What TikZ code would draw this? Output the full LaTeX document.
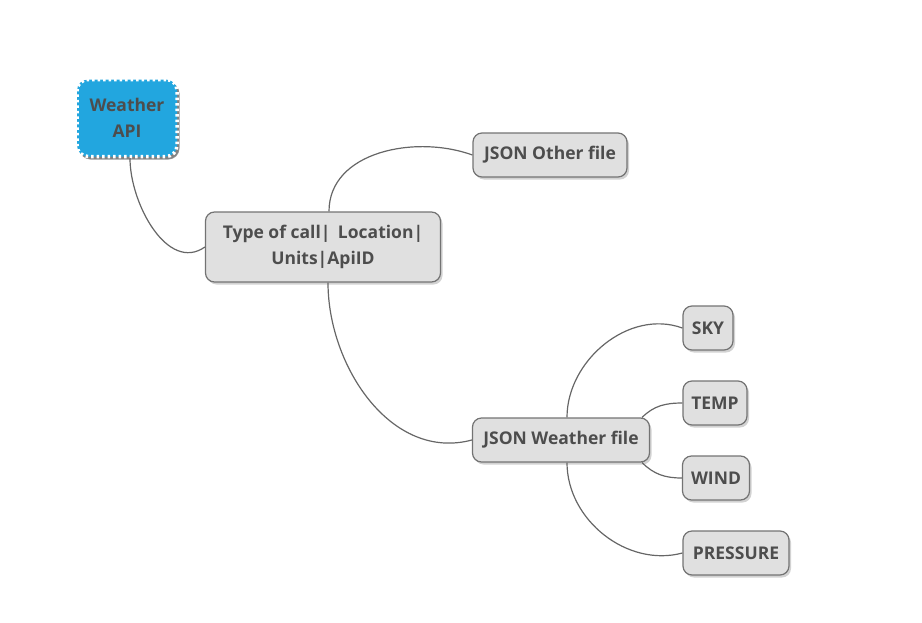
\documentclass[tikz,border=0pt]{standalone}
\usepackage{fontspec}
\setmainfont{Open Sans}
\usepackage{tikz}
\usetikzlibrary{shapes,shadows}

\definecolor{txtgray}{HTML}{4D4D4D}
\definecolor{boxgray}{HTML}{E0E0E0}
\definecolor{apiblue}{HTML}{22A6DF}

\begin{document}
\begin{tikzpicture}[x=1pt,y=-1pt]

    \tikzset{topic/.style = {shape=rectangle,rounded corners=9pt,draw=black!55,fill=boxgray,line width=1.2pt,
        font=\bfseries\fontsize{17.5}{26}\selectfont,text=txtgray,align=center,minimum height=44pt,inner xsep=7pt,
        drop shadow={shadow xshift=2pt,shadow yshift=-2.5pt,fill=black!35}}}
    \tikzset{rootTopic/.style = {topic,fill=apiblue,draw=white,line width=3.5pt,dash pattern=on 2.5pt off 3pt,
        minimum width=100pt,minimum height=77pt,rounded corners=11pt,drop shadow={shadow xshift=2.5pt,shadow yshift=-3pt,fill=black!80}}}
    \tikzset{rama/.style = {draw=black!60,line width=1.2pt}}

    \useasboundingbox (0,0) rectangle (922,622);

    \node [rootTopic] (api) at (127,118) {Weather\\API};

    \node [topic,minimum width=235pt,minimum height=70pt] (params) at (323,247) {Type of call|\, Location|\\Units|ApiID};
    \draw [rama] ([xshift=3pt]api.south)
        to[out=-90,in=215] (params.west);

    %salida sin usar
    \node [topic,minimum width=154pt] (otro) at (550,155) {JSON Other file};
    \draw [rama] ([xshift=6pt]params.north)
        to[out=90,in=160] (otro.west);

    %salida del tiempo
    \node [topic,minimum width=177pt] (tiempo) at (561,440) {JSON Weather file};
    \draw [rama] ([xshift=5pt]params.south)
        to[out=-90,in=195] (tiempo.west);

    \node [topic,minimum width=50pt] (sky) at (708,328) {SKY};
    \node [topic,minimum width=64pt] (temp) at (715,403) {TEMP};
    \node [topic,minimum width=67pt] (wind) at (716,478) {WIND};
    \node [topic,minimum width=106pt] (pressure) at (736,553) {PRESSURE};

    \draw [rama] ([xshift=6pt]tiempo.north)
        to[out=90,in=160] (sky.west);
    \draw [rama] ([xshift=-8pt]tiempo.north east)
        to[out=45,in=180] (temp.west);
    \draw [rama] ([xshift=-8pt]tiempo.south east)
        to[out=-45,in=180] (wind.west);
    \draw [rama] ([xshift=6pt]tiempo.south)
        to[out=-90,in=195] (pressure.west);

\end{tikzpicture}
\end{document}
